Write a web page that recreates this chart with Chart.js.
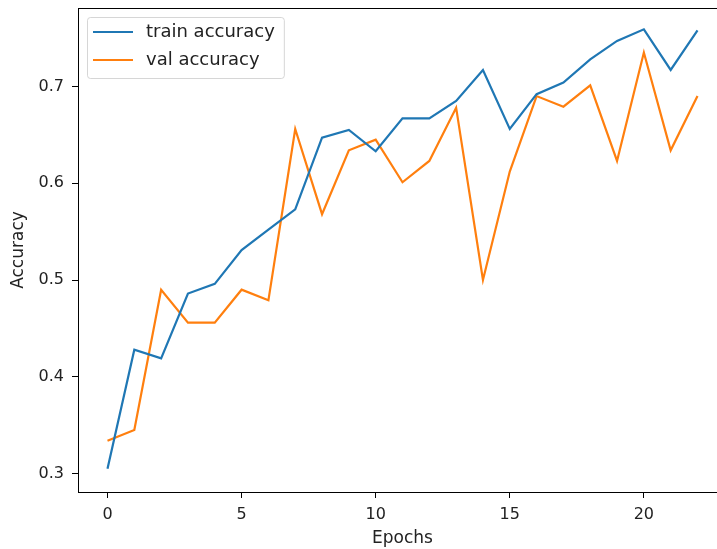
<!DOCTYPE html>
<html>
<head>
<meta charset="utf-8">
<script src="https://cdn.jsdelivr.net/npm/chart.js@4.4.0/dist/chart.umd.min.js"></script>
<style>
    body { margin: 0; overflow: hidden; background: #fff; }
    #wrap { width: 740px; height: 549px; }
</style>
</head>
<body>
<div id="wrap"><canvas id="myChart" width="740" height="549"></canvas></div>
<script>
const epochs = [0, 1, 2, 3, 4, 5, 6, 7, 8, 9, 10, 11, 12, 13, 14, 15, 16, 17, 18, 19, 20, 21, 22];
const trainAcc = [0.305, 0.428, 0.419, 0.486, 0.496, 0.531, 0.552, 0.573, 0.647, 0.655, 0.633, 0.667,
    0.667, 0.685, 0.717, 0.656, 0.692, 0.704, 0.728, 0.747, 0.759, 0.717, 0.758];
const valAcc = [0.334, 0.345, 0.490, 0.456, 0.456, 0.490, 0.479, 0.656, 0.568, 0.634, 0.645, 0.601,
    0.623, 0.678, 0.500, 0.612, 0.690, 0.679, 0.701, 0.623, 0.735, 0.634, 0.690];
const seriesNames = ['train accuracy', 'val accuracy'];
const xTicks = [0, 5, 10, 15, 20];
const yTicks = [0.3, 0.4, 0.5, 0.6, 0.7];

const tickFont = { family: 'DejaVu Sans', size: 16 };
const titleFont = { family: 'DejaVu Sans', size: 17 };

// frame + legend box, matplotlib style
const framePlugin = {
    id: 'frame',
    afterDraw(chart) {
        const ctx = chart.ctx;
        const a = chart.chartArea;
        ctx.save();
        ctx.strokeStyle = '#000';
        ctx.lineWidth = 1;
        ctx.strokeRect(a.left + 0.5, a.top + 0.5, a.right - a.left, a.bottom - a.top);

        // legend
        const x0 = a.left + 9, y0 = a.top + 9;
        ctx.font = '18px "DejaVu Sans"';
        let w = 0;
        chart.data.datasets.forEach(ds => { w = Math.max(w, ctx.measureText(ds.label).width); });
        const boxW = 59 + w + 9, boxH = 61;
        ctx.fillStyle = 'rgba(255,255,255,0.8)';
        ctx.strokeStyle = 'rgba(204,204,204,0.8)';
        ctx.beginPath();
        ctx.roundRect(x0 + 0.5, y0 + 0.5, boxW, boxH, 3);
        ctx.fill();
        ctx.stroke();
        chart.data.datasets.forEach((ds, i) => {
            const y = y0 + 15 + i * 28;
            ctx.strokeStyle = ds.borderColor;
            ctx.lineWidth = 2;
            ctx.beginPath();
            ctx.moveTo(x0 + 6, y);
            ctx.lineTo(x0 + 46, y);
            ctx.stroke();
            ctx.fillStyle = '#222';
            ctx.textBaseline = 'middle';
            ctx.fillText(ds.label, x0 + 59, y);
        });
        ctx.restore();
    }
};

const data = {
    datasets: [{
        label: seriesNames[0],
        data: epochs.map((e, i) => ({ x: e, y: trainAcc[i] })),
        borderColor: '#1f77b4',
        borderWidth: 2.2,
        pointRadius: 0,
        tension: 0,
        fill: false
    }, {
        label: seriesNames[1],
        data: epochs.map((e, i) => ({ x: e, y: valAcc[i] })),
        borderColor: '#ff7f0e',
        borderWidth: 2.2,
        pointRadius: 0,
        tension: 0,
        fill: false
    }]
};

const config = {
    type: 'line',
    data: data,
    plugins: [framePlugin],
    options: {
        responsive: false,
        animation: false,
        layout: { padding: { left: 0, top: 8, right: 13, bottom: 0 } },
        plugins: { legend: { display: false }, tooltip: { enabled: false } },
        scales: {
            x: {
                type: 'linear',
                min: -1.1,
                max: 23.1,
                afterFit: s => { s.height = 57; s.paddingLeft = 0; s.paddingRight = 0; },
                afterBuildTicks: s => { s.ticks = xTicks.map(v => ({ value: v })); },
                grid: { drawOnChartArea: false, tickLength: 6, tickColor: '#000' },
                border: { display: false },
                ticks: { font: tickFont, color: '#222', padding: 7, maxRotation: 0 },
                title: { display: true, text: 'Epochs', font: titleFont, color: '#222', padding: { top: 0, bottom: 0 } }
            },
            y: {
                min: 0.281,
                max: 0.781,
                afterFit: s => { s.width = 78; s.paddingTop = 0; s.paddingBottom = 0; },
                afterBuildTicks: s => { s.ticks = yTicks.map(v => ({ value: v })); },
                grid: { drawOnChartArea: false, tickLength: 6, tickColor: '#000' },
                border: { display: false },
                ticks: { font: tickFont, color: '#222', padding: 8, callback: v => v.toFixed(1) },
                title: { display: true, text: 'Accuracy', font: titleFont, color: '#222', padding: { top: 8, bottom: 0 } }
            }
        }
    }
};

let myChart = new Chart(document.getElementById('myChart'), config);
</script>
</body>
</html>
